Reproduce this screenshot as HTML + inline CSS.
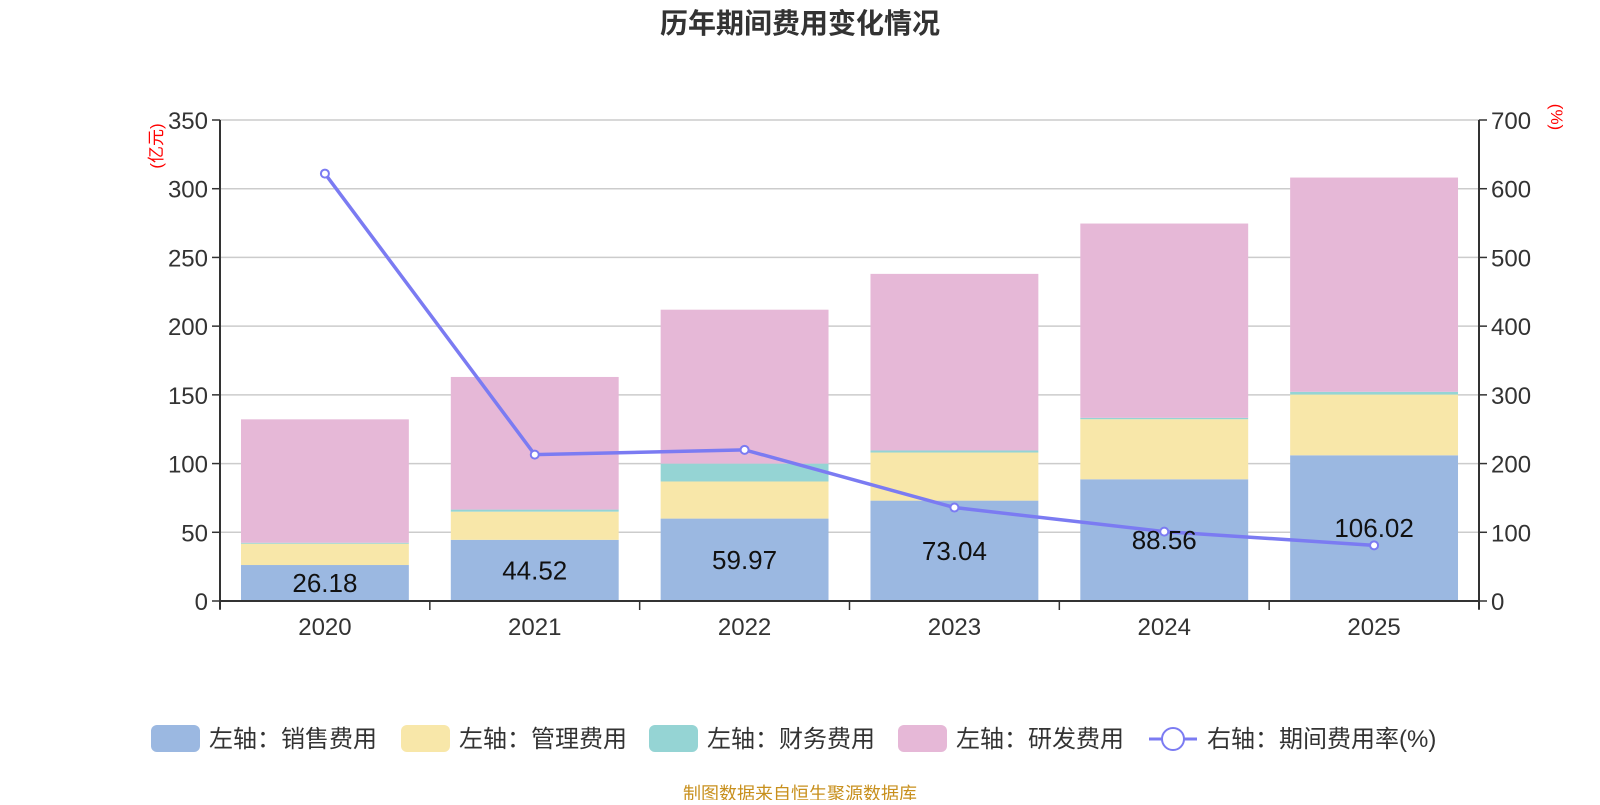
<!DOCTYPE html>
<html><head><meta charset="utf-8">
<style>
html,body{margin:0;padding:0;background:#fff;}
svg text{font-family:"Liberation Sans","Noto Sans CJK SC",sans-serif;}
</style></head>
<body>
<svg id="chart" width="1600" height="800" xmlns="http://www.w3.org/2000/svg">
<text x="800" y="33" text-anchor="middle" font-size="28" font-weight="bold" fill="#333">历年期间费用变化情况</text>
<text transform="translate(162,146) rotate(-90)" text-anchor="middle" font-size="17" fill="#f00">(亿元)</text>
<text transform="translate(1551,117) rotate(90)" text-anchor="middle" font-size="17" fill="#f00">(%)</text>
<g id="grid"></g><g id="bars"></g><g id="axes"></g><g id="line"></g><g id="labels"></g>
<g id="legend"></g>
<text x="800" y="800" text-anchor="middle" font-size="18" fill="#c8901e">制图数据来自恒生聚源数据库</text>
</svg>
<script>
const categories=["2020","2021","2022","2023","2024","2025"];
const sales=[26.18,44.52,59.97,73.04,88.56,106.02];
const admin=[15.5,20.5,27,35,43.7,44.2];
const finance=[0.7,1.5,13,1.5,1,2];
const rnd=[89.8,96.5,112,128.5,141.4,155.9];
const rate=[622,213,220,136,101,81];
const leftTicks=[0,50,100,150,200,250,300,350];
const rightTicks=[0,100,200,300,400,500,600,700];
const seriesNames=["左轴：销售费用","左轴：管理费用","左轴：财务费用","左轴：研发费用"];
const colors=["#9bb8e1","#f8e7a9","#95d4d4","#e6b8d7"];

const NS="http://www.w3.org/2000/svg";
const L=220,R=1479,T=120,B=601;
const yL=v=>B-(v/350)*(B-T);
const yR=v=>B-(v/700)*(B-T);
const band=(R-L)/categories.length;
const xC=i=>L+band*(i+0.5);
const bw=band*0.8;
function mk(tag,attrs,parent){const e=document.createElementNS(NS,tag);for(const k in attrs)e.setAttribute(k,attrs[k]);parent.appendChild(e);return e;}
const grid=document.getElementById('grid'),bars=document.getElementById('bars'),axes=document.getElementById('axes'),line=document.getElementById('line'),labels=document.getElementById('labels'),legend=document.getElementById('legend');

leftTicks.forEach(v=>{
  const g=mk('line',{x1:L,x2:R,y1:yL(v),y2:yL(v),stroke:'#ccc','stroke-width':1.5},grid);
  
  
  const t=mk('text',{x:L-12,y:yL(v)+9,'text-anchor':'end','font-size':24,fill:'#333'},axes);t.textContent=v;
  
  
  mk('line',{x1:L-8,x2:L,y1:yL(v),y2:yL(v),stroke:'#333','stroke-width':1.5},axes);
});
rightTicks.forEach(v=>{
  const t=mk('text',{x:R+12,y:yR(v)+9,'font-size':24,fill:'#333'},axes);t.textContent=v;
  
  
  mk('line',{x1:R,x2:R+8,y1:yR(v),y2:yR(v),stroke:'#333','stroke-width':1.5},axes);
});
mk('line',{x1:L,x2:L,y1:T,y2:B+8,stroke:'#333','stroke-width':2},axes);
mk('line',{x1:R,x2:R,y1:T,y2:B+8,stroke:'#333','stroke-width':2},axes);
mk('line',{x1:L,x2:R,y1:B,y2:B,stroke:'#333','stroke-width':2},axes);
for(let i=0;i<=categories.length;i++)mk('line',{x1:L+band*i,x2:L+band*i,y1:B,y2:B+9,stroke:'#333','stroke-width':1.5},axes);

const series=[sales,admin,finance,rnd];
categories.forEach((c,i)=>{
  let base=0;
  series.forEach((s,k)=>{
    const r=mk('rect',{x:xC(i)-bw/2,y:yL(base+s[i]),width:bw,height:yL(base)-yL(base+s[i]),fill:colors[k]},bars);
    
    
    base+=s[i];
  });
  const t=mk('text',{x:xC(i),y:B+34,'text-anchor':'middle','font-size':24,fill:'#333'},axes);t.textContent=c;
  
  
  const lb=mk('text',{x:xC(i),y:(yL(0)+yL(sales[i]))/2+9,'text-anchor':'middle','font-size':26,fill:'#111'},labels);lb.textContent=sales[i].toFixed(2);
  
  
});
const pts=rate.map((v,i)=>xC(i)+','+yR(v)).join(' ');
const pl=mk('polyline',{points:pts,fill:'none',stroke:'#7b7bf2','stroke-width':3.5},line);


rate.forEach((v,i)=>{
  const c=mk('circle',{cx:xC(i),cy:yR(v),r:4,fill:'#fff',stroke:'#7b7bf2','stroke-width':2},line);
  
  
});
const lx=[151,401,649,898];
seriesNames.forEach((n,k)=>{
  const g=mk('g',{},legend);
  
  
  mk('rect',{x:lx[k],y:725,width:49,height:27,rx:6,fill:colors[k]},g);
  const t=mk('text',{x:lx[k]+58,y:747,'font-size':24,fill:'#333'},g);t.textContent=n;
});
const g=mk('g',{},legend);


mk('line',{x1:1149,x2:1197,y1:739,y2:739,stroke:'#7b7bf2','stroke-width':3},g);
mk('circle',{cx:1173,cy:739,r:11,fill:'#fff',stroke:'#7b7bf2','stroke-width':2},g);
const t=mk('text',{x:1207,y:747,'font-size':24,fill:'#333'},g);t.textContent="右轴：期间费用率(%)";
</script>
</body></html>
